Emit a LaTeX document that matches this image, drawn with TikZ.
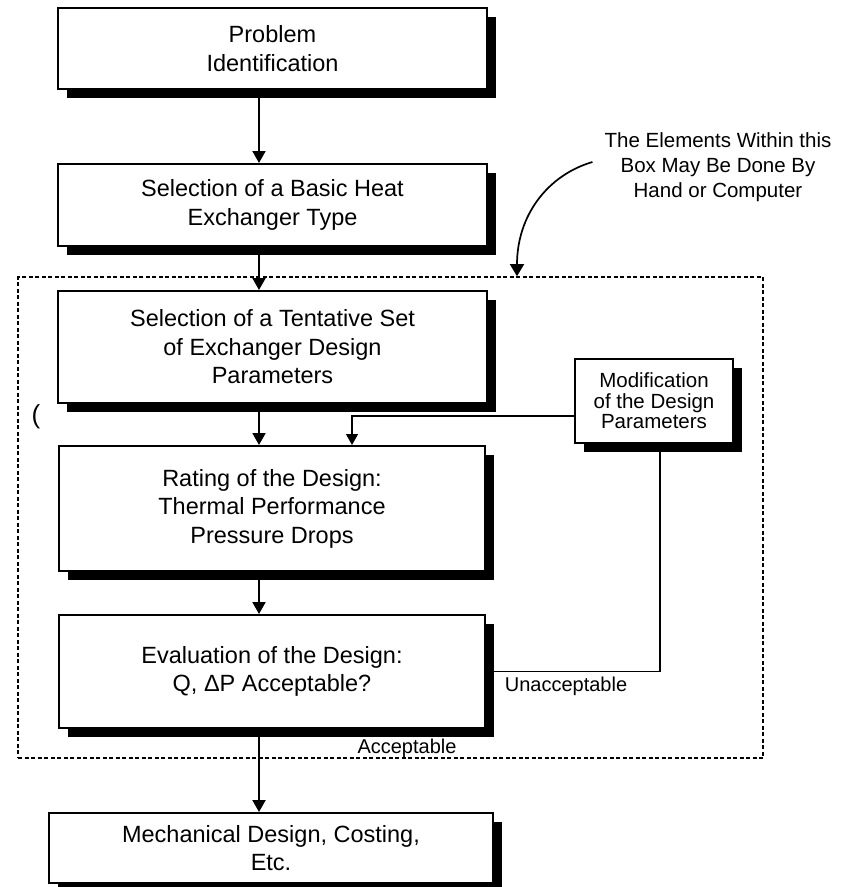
\documentclass[tikz,border=0pt]{standalone}
\usepackage{fontspec}
\setmainfont{Liberation Sans}
\usetikzlibrary{arrows.meta,shadows,calc}
\begin{document}
\begin{tikzpicture}[x=1pt,y=-1pt,
  stepbox/.style={draw, line width=2, fill=white, inner sep=0pt, align=center,
    font=\fontsize{23.5}{28.5}\selectfont,
    drop shadow={shadow xshift=8.5pt, shadow yshift=-8.5pt, opacity=1, fill=black}},
  modbox/.style={stepbox, font=\fontsize{20.5}{20.5}\selectfont},
  groupbox/.style={draw, line width=1.6, dash pattern=on 4pt off 2.5pt, inner sep=0pt},
  arr/.style={line width=2, -{Triangle[width=13pt,length=12pt]}},
  thinline/.style={line width=1.3},
  lbl/.style={font=\fontsize{20}{24}\selectfont, inner sep=0pt},
  note/.style={font=\fontsize{20.5}{25}\selectfont, align=center, inner sep=0pt}]
\useasboundingbox (0,0) rectangle (844,887);
\fill[white] (0,0) rectangle (844,887);

% dashed group box
\node[groupbox, minimum width=745, minimum height=481] (grp) at (390.5,517.5) {};

% boxes
\node[stepbox, minimum width=429, minimum height=81] (b1) at (272.5,48.5) {Problem\\Identification};
\node[stepbox, minimum width=429, minimum height=82] (b2) at (272.5,205) {Selection of a Basic Heat\\Exchanger Type};
\node[stepbox, minimum width=429, minimum height=112] (b3) at (272.5,347) {Selection of a Tentative Set\\of Exchanger Design\\Parameters};
\node[stepbox, minimum width=426, minimum height=125] (b4) at (272,508.5) {Rating of the Design:\\Thermal Performance\\Pressure Drops};
\node[stepbox, minimum width=426, minimum height=113] (b5) at (272,671.5) {Evaluation of the Design:\\Q, ΔP Acceptable?};
\node[stepbox, minimum width=444, minimum height=70] (b6) at (271,848) {Mechanical Design, Costing,\\Etc.};
\node[modbox, minimum width=158, minimum height=84] (mod) at (654,401) {Modification\\of the Design\\Parameters};

% annotation
\node[note] (nt) at (718,167) {The Elements Within this\\Box May Be Done By\\Hand or Computer};

% labels
\node[lbl, anchor=base] (acc) at (407,753) {Acceptable};
\node[lbl, anchor=base] (unacc) at (566,691) {Unacceptable};
\node[font=\fontsize{26}{26}\selectfont, inner sep=0pt] (paren) at (36,417) {(};

% helper coordinates
\coordinate (xa) at (259,0);
\coordinate (xb) at (352,0);
\coordinate (xm) at (660,0);
\coordinate (xc) at (517,0);
\coordinate (yl) at (0,416);

% connectors
\draw[arr] (xa |- b1.south) -- (xa |- b2.north);
\draw[arr] (xa |- b2.south) -- (xa |- b3.north);
\draw[arr] (xa |- b3.south) -- (xa |- b4.north);
\draw[arr] (xa |- b4.south) -- (xa |- b5.north);
\draw[arr] (xa |- b5.south) -- (xa |- b6.north);
\draw[thinline, -{Triangle[width=12pt,length=11pt]}] (mod.west |- yl) -| (xb |- b4.north);
\draw[thinline] (b5.east) -| (xm |- mod.south);
\draw[line width=1.7, -{Triangle[width=14pt,length=12pt]}]
  ([shift={(-12,-5)}]nt.west) .. controls (548,175) and (517,215) .. (xc |- grp.north);
\end{tikzpicture}
\end{document}
